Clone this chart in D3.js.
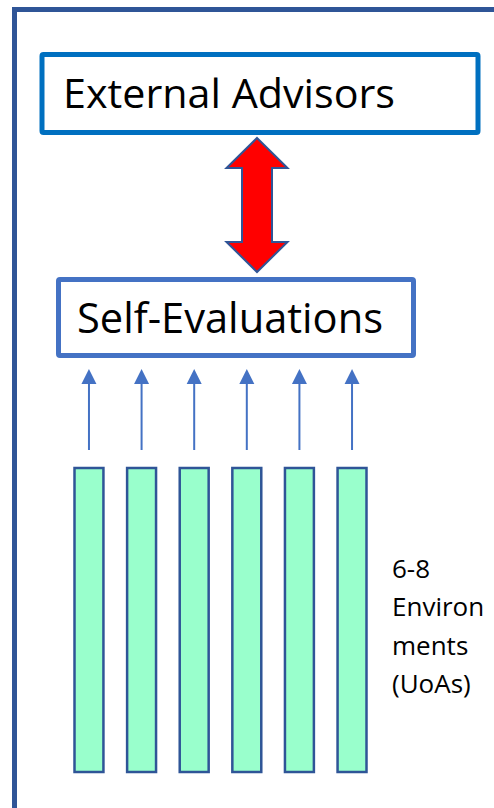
<!DOCTYPE html>
<html>
<head>
<meta charset="utf-8">
<script src="https://cdn.jsdelivr.net/npm/d3@7/dist/d3.min.js"></script>
<style>
  html, body { margin: 0; padding: 0; background: #fff; }
  svg { display: block; }
</style>
</head>
<body>
<script>
// ---- data ----
const environments = ["UoA 1", "UoA 2", "UoA 3", "UoA 4", "UoA 5", "UoA 6"];
const topLabel = "External Advisors";
const midLabel = "Self-Evaluations";
const sideLabel = ["6-8", "Environ", "ments", "(UoAs)"];

const W = 494, H = 808;
const svg = d3.select("body").append("svg").attr("width", W).attr("height", H);

const font = "'Open Sans', 'DejaVu Sans', sans-serif";

// outer frame (extends beyond viewport on right/bottom)
svg.append("rect")
  .attr("x", 14.5).attr("y", 9.5)
  .attr("width", W + 50).attr("height", H + 50)
  .attr("fill", "none").attr("stroke", "#2F5597").attr("stroke-width", 5);

// External Advisors box
svg.append("rect")
  .attr("x", 42).attr("y", 54.5).attr("width", 436).attr("height", 78)
  .attr("rx", 1.5)
  .attr("fill", "#fff").attr("stroke", "#0070C0").attr("stroke-width", 5);
svg.append("text")
  .attr("x", 63).attr("y", 108)
  .attr("font-family", font).attr("font-size", 41)
  .attr("textLength", 332).attr("lengthAdjust", "spacingAndGlyphs")
  .attr("fill", "#000").text(topLabel);

// red double arrow
const ax = 257, aTop = 138, aBot = 272, headH = 30, headW = 30.5, shaftW = 15;
const arrowPts = [
  [ax, aTop], [ax + headW, aTop + headH], [ax + shaftW, aTop + headH],
  [ax + shaftW, aBot - headH], [ax + headW, aBot - headH], [ax, aBot],
  [ax - headW, aBot - headH], [ax - shaftW, aBot - headH],
  [ax - shaftW, aTop + headH], [ax - headW, aTop + headH]
];
svg.append("path")
  .attr("d", d3.line()(arrowPts) + "Z")
  .attr("fill", "#FF0000").attr("stroke", "#2F5597").attr("stroke-width", 2)
  .attr("stroke-linejoin", "miter");

// Self-Evaluations box
svg.append("rect")
  .attr("x", 58.5).attr("y", 279.5).attr("width", 355).attr("height", 76)
  .attr("rx", 1.5)
  .attr("fill", "#fff").attr("stroke", "#4472C4").attr("stroke-width", 5);
svg.append("text")
  .attr("x", 77).attr("y", 333)
  .attr("font-family", font).attr("font-size", 42)
  .attr("textLength", 306).attr("lengthAdjust", "spacingAndGlyphs")
  .attr("fill", "#000").text(midLabel);

// environment bars via band scale
const x = d3.scaleBand().domain(environments).range([74.5, 366.5]).paddingInner(0.45).paddingOuter(0);
const y = d3.scaleLinear().domain([0, 1]).range([772, 468]);

const bars = svg.append("g");
bars.selectAll("rect").data(environments).join("rect")
  .attr("x", d => x(d)).attr("y", y(1))
  .attr("width", x.bandwidth()).attr("height", y(0) - y(1))
  .attr("fill", "#99FFCC").attr("stroke", "#2F5597").attr("stroke-width", 2.5);

// blue arrows from bars up to Self-Evaluations
const arrowTop = 369, arrowBottom = 450, aHeadH = 15, aHeadW = 7.5;
const arrows = svg.append("g");
environments.forEach(d => {
  const cx = x(d) + x.bandwidth() / 2;
  arrows.append("line")
    .attr("x1", cx).attr("x2", cx)
    .attr("y1", arrowBottom).attr("y2", arrowTop + aHeadH - 1)
    .attr("stroke", "#4472C4").attr("stroke-width", 2);
  arrows.append("path")
    .attr("d", d3.line()([[cx, arrowTop], [cx + aHeadW, arrowTop + aHeadH], [cx - aHeadW, arrowTop + aHeadH]]) + "Z")
    .attr("fill", "#4472C4");
});

// side label
const side = svg.append("text")
  .attr("font-family", font).attr("font-size", 26).attr("fill", "#000");
sideLabel.forEach((t, i) => {
  side.append("tspan").attr("x", 392).attr("y", 578 + i * 38.3).text(t);
});
</script>
</body>
</html>
